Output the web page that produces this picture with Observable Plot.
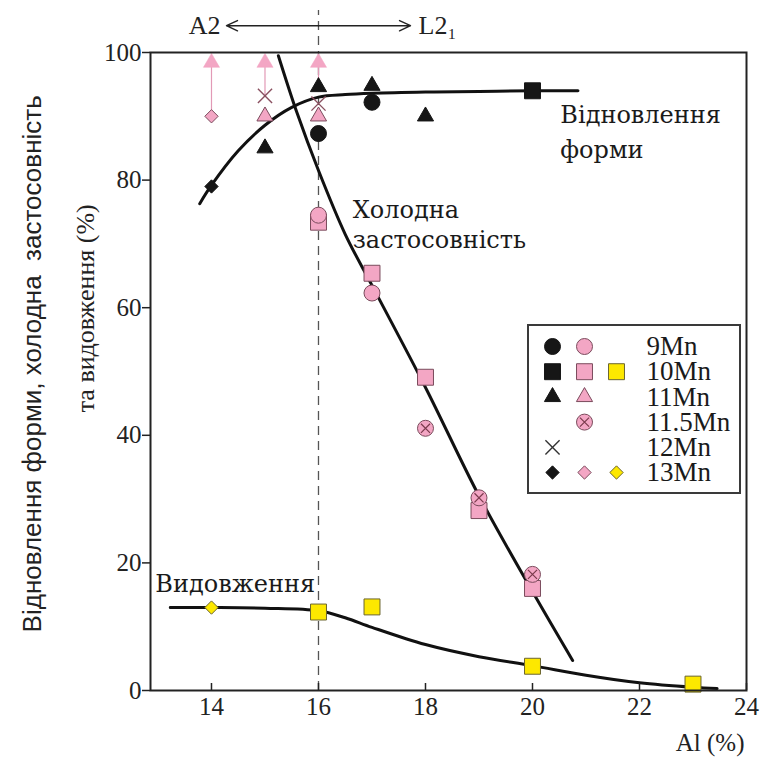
<!DOCTYPE html>
<html><head><meta charset="utf-8">
<script src="https://cdn.jsdelivr.net/npm/d3@7"></script>
<script src="https://cdn.jsdelivr.net/npm/@observablehq/plot@0.6"></script>
<style>
html,body{margin:0;padding:0;background:#fff;}
#wrap{position:relative;width:769px;height:769px;overflow:hidden;}
#legend{position:absolute;left:527px;top:324px;width:210px;height:166px;border:2px solid #3a3a3a;background:#fff;}
</style></head><body>
<div id="wrap"><div id="chart"></div><div id="legend"></div></div>
<script>
// ---- axes ----
const xTicks = [14, 16, 18, 20, 22, 24];
const yTicks = [0, 20, 40, 60, 80, 100];

// ---- shape recovery points ----
const srAl     = [14, 14, 15, 15, 15, 16, 16, 16, 16, 17, 17, 18, 20];
const srValue  = [90, 79, 85, 90, 93.2, 94.6, 92, 90, 87.3, 94.8, 92.2, 90, 94];
const srAlloy  = ["13Mn","13Mn","11Mn","11Mn","12Mn","11Mn","12Mn","11Mn","9Mn","11Mn","9Mn","11Mn","10Mn"];
const srTone   = ["pink","black","black","pink","pink","black","pink","pink","black","black","black","black","black"];

// ---- cold workability points ----
const cwAl     = [16, 16, 17, 17, 18, 18, 19, 19, 20, 20];
const cwValue  = [73.4, 74.5, 65.4, 62.3, 49.1, 41.1, 28.2, 30.2, 16, 18.2];
const cwAlloy  = ["10Mn","9Mn","10Mn","9Mn","10Mn","11.5Mn","10Mn","11.5Mn","10Mn","11.5Mn"];

// ---- elongation points ----
const elAl     = [14, 16, 17, 20, 23];
const elValue  = [13, 12.3, 13.1, 3.8, 1];
const elAlloy  = ["13Mn","10Mn","10Mn","10Mn","10Mn"];

// ---- lower-bound arrows (value > shown) ----
const arrowAl   = [14, 15, 16];
const arrowFrom = [90, 93.2, 94.6];
const arrowTo   = [98.4, 98.4, 98.4];

// ---- fitted curves ----
const srCurveAl = [13.78, 14, 14.5, 15, 15.5, 16, 16.5, 17, 18, 19, 20, 20.85];
const srCurveV  = [76.3, 79.2, 84.6, 88.6, 91.4, 93, 93.4, 93.6, 93.8, 93.9, 94, 94];
const cwCurveAl = [15.25, 15.6, 16, 16.5, 17, 18, 19, 20, 20.75];
const cwCurveV  = [99.5, 90.5, 81.5, 71.5, 63.5, 47.5, 30.5, 15.5, 4.7];
const elCurveAl = [13.23, 14, 15, 16, 16.5, 17, 18, 19, 20, 21, 22, 23, 23.45];
const elCurveV  = [13, 13, 12.9, 12.5, 11.4, 9.9, 7.2, 5.3, 3.9, 2.4, 1.2, 0.5, 0.3];

// ---- annotations ----
const noteRecovery = "Відновлення\nформи";
const noteCold     = "Холодна\nзастосовність";
const noteElong    = "Видовження";
const noteAl    = [20.52, 16.64, 12.95];
const noteValue = [83.4, 69.3, 15.4];
const phaseLeft  = "A2";
const phaseRight = "L2₁";
const phaseAl    = [14.17, 17.87];
const phaseLevel = 104.2;
const phaseArrowEnds = [14.28, 17.72];
const boundaryAl = 16;
const yLabel1 = "Відновлення форми, холодна  застосовність";
const yLabel2 = "та видовження (%)";
const yLabelAl = [10.65, 11.65];
const yLabelValue = [51.2, 43.6];
const xLabel = "Al (%)";

// ---- legend ----
const legendAlloys = ["9Mn", "10Mn", "11Mn", "11.5Mn", "12Mn", "13Mn"];
const legendTones  = [["black","pink"], ["black","pink","yellow"], ["black","pink"], [null,"pink"], ["black"], ["black","pink","yellow"]];

// ---- styling ----
const SERIF = "Liberation Serif, DejaVu Serif, serif";
const SANS = "Liberation Sans, Arial, sans-serif";
const SLAB = "DejaVu Serif, serif";
const toneFill   = {black: "#161616", pink: "#f3a6c4", yellow: "#fde800"};
const toneStroke = {black: "#161616", pink: "#7a4b5c", yellow: "#6b6530"};
const shapeOf = {"9Mn": "circle", "10Mn": "square", "11Mn": "triangle", "11.5Mn": "circlex", "12Mn": "times", "13Mn": "diamond2"};
const rOf = {circle: 8, square: 9, triangle: 6, circlex: 8, times: 6.5, diamond2: 6};

const pts = [
  ...srAl.map((x, i) => ({x, y: srValue[i], shape: shapeOf[srAlloy[i]], tone: srTone[i]})),
  ...cwAl.map((x, i) => ({x, y: cwValue[i], shape: shapeOf[cwAlloy[i]], tone: "pink"})),
  ...elAl.map((x, i) => ({x, y: elValue[i], shape: shapeOf[elAlloy[i]], tone: "yellow"}))
];

function symbolMarks(data, xk, yk) {
  const marks = [];
  for (const shape of ["square", "circle", "circlex", "triangle", "diamond2", "times"]) {
    const d = data.filter(p => p.shape === shape);
    if (!d.length) continue;
    if (shape === "times") {
      marks.push(Plot.dot(d, {x: xk, y: yk, symbol: "times", r: rOf.times, fill: "none",
        stroke: p => p.tone === "black" ? "#333" : "#8a5060", strokeWidth: 1.4}));
    } else if (shape === "circlex") {
      marks.push(Plot.dot(d, {x: xk, y: yk, symbol: "circle", r: rOf.circle, fill: p => toneFill[p.tone], stroke: p => toneStroke[p.tone], strokeWidth: 1}));
      marks.push(Plot.dot(d, {x: xk, y: yk, symbol: "times", r: 4.2, fill: "none", stroke: "#7a3a4c", strokeWidth: 1.2}));
    } else {
      marks.push(Plot.dot(d, {x: xk, y: yk, symbol: shape, r: rOf[shape], fill: p => toneFill[p.tone], stroke: p => toneStroke[p.tone], strokeWidth: 1}));
    }
  }
  return marks;
}

const curve = (xs, ys) => xs.map((x, i) => ({x, y: ys[i]}));
const arrows = arrowAl.map((x, i) => ({x, y1: arrowFrom[i], y2: arrowTo[i]}));
const noteStyle = {textAnchor: "start", lineAnchor: "bottom", fontSize: 24, fontFamily: SLAB, fill: "#1a1a1a"};

const chart = Plot.plot({
  width: 769, height: 769,
  marginLeft: 150, marginRight: 23, marginTop: 52, marginBottom: 79,
  style: {fontFamily: SERIF, background: "white", color: "#222", overflow: "visible"},
  x: {domain: [12.86, 24]},
  y: {domain: [0, 100]},
  marks: [
    Plot.ruleX([boundaryAl], {y1: 0, y2: 106.6, stroke: "#555", strokeWidth: 1.3, strokeDasharray: "9,6"}),
    Plot.line(curve(srCurveAl, srCurveV), {x: "x", y: "y", curve: "catmull-rom", stroke: "#111", strokeWidth: 3}),
    Plot.line(curve(cwCurveAl, cwCurveV), {x: "x", y: "y", curve: "catmull-rom", stroke: "#111", strokeWidth: 3}),
    Plot.line(curve(elCurveAl, elCurveV), {x: "x", y: "y", curve: "catmull-rom", stroke: "#111", strokeWidth: 3}),
    Plot.ruleX(arrows, {x: "x", y1: "y1", y2: "y2", stroke: "#e29ab6", strokeWidth: 1.2}),
    Plot.dot(arrows, {x: "x", y: "y2", symbol: "triangle", r: 6, fill: "#f3a6c4", stroke: "#f3a6c4", strokeWidth: 0.5}),
    ...symbolMarks(pts, "x", "y"),
    Plot.frame({stroke: "#222", strokeWidth: 2}),
    Plot.axisX(xTicks, {tickSize: -7, tickPadding: 14, fontSize: 25, fontFamily: SERIF, strokeWidth: 1.5, label: null}),
    Plot.axisY(yTicks, {tickSize: 8, tickPadding: 1, fontSize: 25, fontFamily: SERIF, strokeWidth: 1.5, label: null}),
    Plot.text([xLabel], {frameAnchor: "bottom-right", dx: -2, dy: 60, textAnchor: "end", fontSize: 25, fontFamily: SERIF, fill: "#222"}),
    Plot.text([yLabel1], {x: yLabelAl[0], y: yLabelValue[0], textAnchor: "middle", rotate: -90, fontSize: 26, fontFamily: SANS, fill: "#222"}),
    Plot.text([yLabel2], {x: yLabelAl[1], y: yLabelValue[1], textAnchor: "start", rotate: -90, fontSize: 26, fontFamily: SERIF, fill: "#222"}),
    Plot.text([noteRecovery], {x: noteAl[0], y: noteValue[0], lineHeight: 1.46, ...noteStyle}),
    Plot.text([noteCold], {x: noteAl[1], y: noteValue[1], lineHeight: 1.25, ...noteStyle}),
    Plot.text([noteElong], {x: noteAl[2], y: noteValue[2], ...noteStyle}),
    Plot.arrow(phaseArrowEnds, {x1: () => boundaryAl, y1: () => phaseLevel, x2: d => d, y2: () => phaseLevel, headLength: 13, headAngle: 50, strokeWidth: 1.4, stroke: "#222"}),
    Plot.text([phaseLeft], {x: phaseAl[0], y: phaseLevel, textAnchor: "end", fontSize: 26, fontFamily: SERIF, fill: "#222"}),
    Plot.text([phaseRight], {x: phaseAl[1], y: phaseLevel, textAnchor: "start", fontSize: 26, fontFamily: SERIF, fill: "#222"})
  ]
});
document.getElementById("chart").appendChild(chart);

// ---- legend as its own small plot ----
const legendRecs = [];
legendAlloys.forEach((a, row) => legendTones[row].forEach((tone, col) => {
  if (tone) legendRecs.push({row, col, tone, shape: shapeOf[a]});
}));
const legend = Plot.plot({
  width: 210, height: 166, margin: 0,
  style: {fontFamily: SERIF, background: "white", color: "#222", overflow: "visible"},
  x: {domain: [0, 3], range: [23, 119], axis: null},
  y: {domain: [0, 5], range: [20, 146], axis: null},
  marks: [
    ...symbolMarks(legendRecs, "col", "row"),
    Plot.text(legendAlloys, {x: () => 3, y: (d, i) => i, text: d => d, textAnchor: "start", dx: -2, fontSize: 27, fontFamily: SERIF, fill: "#1a1a1a"})
  ]
});
document.getElementById("legend").appendChild(legend);
</script>
</body></html>
